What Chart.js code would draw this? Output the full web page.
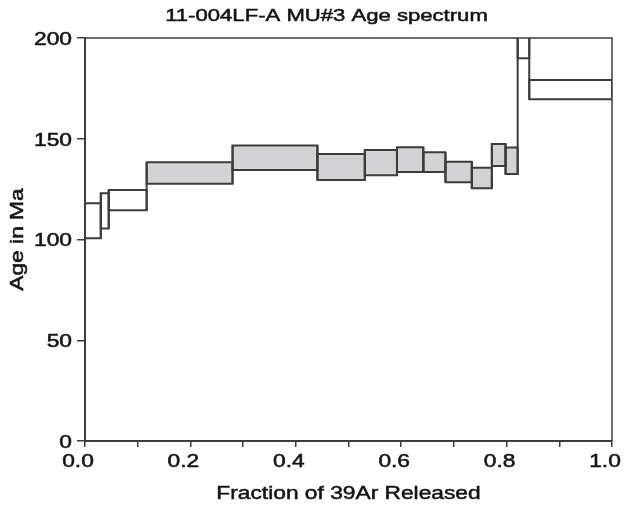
<!DOCTYPE html>
<html>
<head>
<meta charset="utf-8">
<title>11-004LF-A MU#3 Age spectrum</title>
<script src="https://cdn.jsdelivr.net/npm/chart.js@4.4.1/dist/chart.umd.min.js"></script>
<style>
    html, body { margin: 0; padding: 0; background: #fff; }
    canvas { display: block; }
</style>
</head>
<body>
<canvas id="spectrumChart" width="624" height="510"></canvas>
<script>
// Step heating results: cumulative 39Ar fraction at each step boundary,
// lower / upper age (Ma) of every step
const fractionEdges = [0, 0.030, 0.045, 0.117, 0.280, 0.441, 0.531, 0.592, 0.642, 0.684, 0.734, 0.772, 0.798, 0.821, 0.843, 1.0];
const ageLow  = [100.6, 105.4, 114.5, 127.7, 134.5, 129.5, 131.9, 133.5, 133.5, 128.4, 125.4, 136.5, 132.5, 189.9, 169.6];
const ageHigh = [118.0, 122.9, 124.6, 138.3, 146.6, 142.4, 144.4, 145.8, 143.3, 138.6, 135.6, 147.4, 145.6, 212.0, 179.2];
const plateauSteps = [false, false, false, true, true, true, true, true, true, true, true, true, true, false, false];

// Axis ticks
const xTickValues = [0, 0.1, 0.2, 0.3, 0.4, 0.5, 0.6, 0.7, 0.8, 0.9, 1.0];
const xTickLabels = ['0.0', '0.2', '0.4', '0.6', '0.8', '1.0'];
const yTickValues = [0, 50, 100, 150, 200];

const chartTitle = '11-004LF-A MU#3 Age spectrum';
const FONT = '"Liberation Sans", Arial, sans-serif';
const TEXT_COLOR = '#141414';
const LINE_COLOR = '#3c3c3c';
const PLATEAU_FILL = '#d3d3d6';
const TEXT_STRETCH = 1.3;

// The plot uses a wide, slightly heavy sans face:
// draw every label horizontally stretched with a thin outline
function widenText(ctx) {
    const fillText = ctx.fillText.bind(ctx);
    const strokeText = ctx.strokeText.bind(ctx);
    ctx.fillText = function (text, x, y) {
        ctx.save();
        ctx.translate(x, y);
        ctx.scale(TEXT_STRETCH, 1);
        fillText(text, 0, 0);
        ctx.strokeStyle = ctx.fillStyle;
        ctx.lineWidth = 0.5;
        strokeText(text, 0, 0);
        ctx.restore();
    };
}

// One closed rectangle per heating step
const datasets = ageLow.map((lo, i) => {
    const x0 = fractionEdges[i];
    const x1 = fractionEdges[i + 1];
    const hi = ageHigh[i];
    return {
        data: [
            { x: x0, y: lo }, { x: x1, y: lo }, { x: x1, y: hi },
            { x: x0, y: hi }, { x: x0, y: lo }
        ],
        fill: plateauSteps[i] ? 'shape' : false,
        backgroundColor: PLATEAU_FILL,
        borderColor: LINE_COLOR,
        borderWidth: 2,
        borderJoinStyle: 'miter',
        borderCapStyle: 'square',
        pointRadius: 0,
        tension: 0
    };
});

// Vertical connectors between neighbouring steps
const links = [];
for (let i = 1; i < ageLow.length; i++) {
    const x = fractionEdges[i];
    links.push({ x: x, y: Math.min(ageLow[i - 1], ageLow[i]) });
    links.push({ x: x, y: Math.max(ageHigh[i - 1], ageHigh[i]) });
    links.push({ x: x, y: null });
}
datasets.push({
    data: links,
    fill: false,
    borderColor: LINE_COLOR,
    borderWidth: 2,
    pointRadius: 0,
    spanGaps: false
});

const titlePlugin = {
    id: 'spectrumTitle',
    afterDraw(chart) {
        const { ctx, chartArea } = chart;
        ctx.save();
        ctx.font = '17px ' + FONT;
        ctx.fillStyle = TEXT_COLOR;
        ctx.textAlign = 'center';
        ctx.textBaseline = 'middle';
        ctx.fillText(chartTitle, (chartArea.left + chartArea.right) / 2 - 22, 16);
        ctx.restore();
    }
};

// Top and right sides of the plot frame
const framePlugin = {
    id: 'plotFrame',
    afterDatasetsDraw(chart) {
        const { ctx, chartArea } = chart;
        ctx.save();
        ctx.strokeStyle = LINE_COLOR;
        ctx.lineWidth = 1.5;
        ctx.beginPath();
        ctx.moveTo(chartArea.left, chartArea.top);
        ctx.lineTo(chartArea.right, chartArea.top);
        ctx.lineTo(chartArea.right, chartArea.bottom);
        ctx.stroke();
        ctx.restore();
    }
};

const canvas = document.getElementById('spectrumChart');
const ctx = canvas.getContext('2d');
widenText(ctx);

new Chart(ctx, {
    type: 'line',
    data: { datasets: datasets },
    plugins: [titlePlugin, framePlugin],
    options: {
        responsive: false,
        devicePixelRatio: 1,
        animation: false,
        events: [],
        layout: { padding: { top: 38, right: 12, left: 0, bottom: 0 } },
        plugins: {
            legend: { display: false },
            tooltip: { enabled: false },
            filler: { drawTime: 'beforeDatasetsDraw' }
        },
        scales: {
            x: {
                type: 'linear',
                min: 0,
                max: 1,
                afterBuildTicks: axis => { axis.ticks = xTickValues.map(v => ({ value: v })); },
                afterFit: axis => {
                    axis.height = 69;
                    axis.paddingLeft = 0;
                    axis.paddingRight = 0;
                },
                grid: {
                    drawOnChartArea: false,
                    drawTicks: true,
                    tickLength: 6,
                    color: LINE_COLOR,
                    lineWidth: 1.5
                },
                border: { display: true, color: LINE_COLOR, width: 2 },
                ticks: {
                    autoSkip: false,
                    maxRotation: 0,
                    padding: 5,
                    labelOffset: -7,
                    color: TEXT_COLOR,
                    font: { family: FONT, size: 17.5 },
                    callback: value => {
                        const s = Number(value).toFixed(1);
                        return xTickLabels.includes(s) ? s : '';
                    }
                },
                title: {
                    display: true,
                    text: 'Fraction of 39Ar Released',
                    color: TEXT_COLOR,
                    font: { family: FONT, size: 17.5 },
                    padding: { top: 0, bottom: 5 }
                }
            },
            y: {
                type: 'linear',
                min: 0,
                max: 200,
                afterBuildTicks: axis => { axis.ticks = yTickValues.map(v => ({ value: v })); },
                afterFit: axis => { axis.width = 85; },
                grid: {
                    drawOnChartArea: false,
                    drawTicks: true,
                    tickLength: 8,
                    color: LINE_COLOR,
                    lineWidth: 1.5
                },
                border: { display: true, color: LINE_COLOR, width: 2 },
                ticks: {
                    padding: 5,
                    labelOffset: 2,
                    color: TEXT_COLOR,
                    font: { family: FONT, size: 17.5 }
                },
                title: {
                    display: true,
                    text: 'Age in Ma',
                    color: TEXT_COLOR,
                    font: { family: FONT, size: 17.5 },
                    padding: { top: 8, bottom: 0 }
                }
            }
        }
    }
});
</script>
</body>
</html>
